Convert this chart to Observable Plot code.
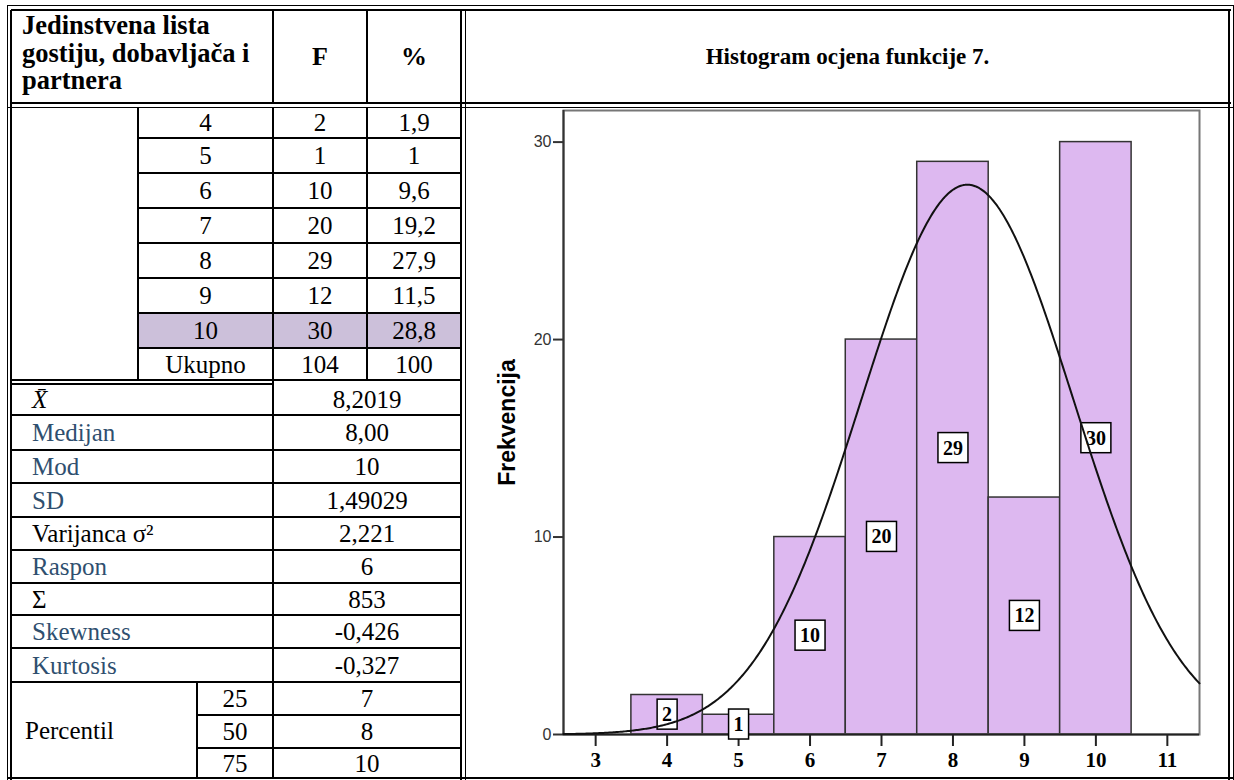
<!DOCTYPE html>
<html><head><meta charset="utf-8">
<script src="https://cdn.jsdelivr.net/npm/d3@7"></script>
<script src="https://cdn.jsdelivr.net/npm/@observablehq/plot@0.6"></script>
<style>
html,body{margin:0;padding:0;background:#fff;}
#page{position:relative;width:1234px;height:780px;overflow:hidden;font-family:"Liberation Serif","Times New Roman",serif;color:#000;}
.ln{position:absolute;background:#000;}
.cell{position:absolute;display:flex;align-items:center;justify-content:center;font-size:25px;line-height:1;white-space:nowrap;}
.cell.left{justify-content:flex-start;}
.hl{position:absolute;background:#ccc0da;}
#chart{position:absolute;left:467px;top:107px;}
</style></head><body><div id="page"></div>
<script>
// ---- data ----
const grades = [4, 5, 6, 7, 8, 9, 10];
const freq = [2, 1, 10, 20, 29, 12, 30];
const pct = ["1,9", "1", "9,6", "19,2", "27,9", "11,5", "28,8"];
const totalLabel = "Ukupno";
const totalF = "104";
const totalPct = "100";
const highlightGrade = 10;
const statLabels = ["X\u0304", "Medijan", "Mod", "SD", "Varijanca σ²", "Raspon", "Σ", "Skewness", "Kurtosis"];
const statValues = ["8,2019", "8,00", "10", "1,49029", "2,221", "6", "853", "-0,426", "-0,327"];
const statBlue = [false, true, true, true, false, true, false, true, true];
const percentileLabel = "Percentil";
const percentiles = ["25", "50", "75"];
const percentileValues = ["7", "8", "10"];
const headerLines = ["Jedinstvena lista", "gostiju, dobavljača i", "partnera"];
const colF = "F", colPct = "%";
const chartTitle = "Histogram ocjena funkcije 7.";
const yLabel = "Frekvencija";
const mean = 8.2019, sd = 1.49029, nTotal = 104, binWidth = 1;
const xTicks = [3, 4, 5, 6, 7, 8, 9, 10, 11];
const yTicks = [0, 10, 20, 30];

// ---- layout helpers ----
const page = document.getElementById("page");
function hline(x1, x2, y, w = 1.5) { const d = document.createElement("div"); d.className = "ln"; Object.assign(d.style, {left: x1 + "px", top: (y - w / 2) + "px", width: (x2 - x1) + "px", height: w + "px"}); page.appendChild(d); }
function vline(x, y1, y2, w = 1.5) { const d = document.createElement("div"); d.className = "ln"; Object.assign(d.style, {left: (x - w / 2) + "px", top: y1 + "px", width: w + "px", height: (y2 - y1) + "px"}); page.appendChild(d); }
function cell(x1, x2, y1, y2, text, opts = {}) {
  const d = document.createElement("div"); d.className = "cell" + (opts.left ? " left" : "");
  Object.assign(d.style, {left: x1 + "px", top: y1 + "px", width: (x2 - x1) + "px", height: (y2 - y1) + "px"});
  if (opts.pad) d.style.paddingLeft = opts.pad + "px", d.style.boxSizing = "border-box";
  if (opts.color) d.style.color = opts.color;
  if (opts.bold) d.style.fontWeight = "bold";
  if (opts.italic) d.style.fontStyle = "italic";
  if (opts.size) d.style.fontSize = opts.size + "px";
  d.textContent = text; page.appendChild(d); return d;
}

// column x positions
const X0 = 12, XSUB = 138, XPCT = 197, XF = 273, XP = 367, XR = 461;
// row boundaries
const bodyY = [106, 138, 173, 208, 243, 278, 313, 348, 381];
const statY = [383, 415, 450, 483, 517, 550, 583, 615, 648, 682, 715, 748, 778];

// highlight row
const hi = grades.indexOf(highlightGrade);
{ const d = document.createElement("div"); d.className = "hl"; Object.assign(d.style, {left: XSUB + "px", top: bodyY[hi] + "px", width: (XR - XSUB) + "px", height: (bodyY[hi + 1] - bodyY[hi]) + "px"}); page.appendChild(d); }

// outer double borders
hline(7, 1234, 5, 1); hline(11, 1231, 10, 2.5);
vline(7, 5, 780, 1); vline(11, 10, 780, 2.5);
vline(1233, 5, 780, 1); vline(1229, 10, 780, 2.5);
hline(11, 1231, 103, 2.5); hline(7, 1234, 107, 1);
vline(XR, 10, 780, 2.5); vline(465.5, 10, 780, 1);
hline(7, 1234, 778, 2);

// header
vline(XF, 10, 103); vline(XP, 10, 103);
{
  const d = document.createElement("div");
  Object.assign(d.style, {position: "absolute", left: "22px", top: "12px", fontSize: "26.5px", lineHeight: "27.5px", fontWeight: "bold", whiteSpace: "nowrap"});
  d.innerHTML = headerLines.join("<br>"); page.appendChild(d);
}
cell(XF, XP, 10, 103, colF, {bold: true, size: 26});
cell(XP, XR, 10, 103, colPct, {bold: true, size: 26});
cell(466, 1229, 10, 103, chartTitle, {bold: true, size: 23});

// body rows
vline(XSUB, 107, 381); vline(XF, 107, 778); vline(XP, 107, 381);
for (let i = 1; i < bodyY.length - 1; i++) hline(XSUB, XR, bodyY[i]);
hline(X0, XR, 380); hline(X0, XF, 384);
const bodyRows = grades.map((g, i) => [String(g), String(freq[i]), pct[i]]).concat([[totalLabel, totalF, totalPct]]);
bodyRows.forEach((r, i) => {
  cell(XSUB, XF, bodyY[i], bodyY[i + 1], r[0]);
  cell(XF, XP, bodyY[i], bodyY[i + 1], r[1]);
  cell(XP, XR, bodyY[i], bodyY[i + 1], r[2]);
});

// stats rows
statLabels.forEach((lab, i) => {
  if (i > 0) hline(X0, XR, statY[i]);
  cell(X0, XF, statY[i], statY[i + 1], lab, {left: true, pad: 20, color: statBlue[i] ? "#2f4f6f" : "#000", italic: i === 0});
  cell(XF, XR, statY[i], statY[i + 1], statValues[i]);
});
const pStart = statLabels.length;
hline(X0, XR, statY[pStart]);
vline(XPCT, statY[pStart], 778);
percentiles.forEach((p, j) => {
  if (j > 0) hline(XPCT, XR, statY[pStart + j]);
  cell(XPCT, XF, statY[pStart + j], statY[pStart + j + 1], p);
  cell(XF, XR, statY[pStart + j], statY[pStart + j + 1], percentileValues[j]);
});
cell(X0, XPCT, statY[pStart], 778, percentileLabel, {left: true, pad: 13});

// ---- chart ----
const bins = grades.map((g, i) => ({x: g, x1: g - binWidth / 2, x2: g + binWidth / 2, count: freq[i], label: String(freq[i])}));
const xDomain = [2.55, 11.45];
const curve = d3.range(xDomain[0], xDomain[1] + 1e-9, 0.02).map(x => ({x, y: nTotal * binWidth * Math.exp(-0.5 * ((x - mean) / sd) ** 2) / (sd * Math.sqrt(2 * Math.PI))}));

const chart = Plot.plot({
  width: 763, height: 671,
  marginLeft: 96, marginRight: 31, marginTop: 3, marginBottom: 44,
  x: {domain: xDomain},
  y: {domain: [0, 31.6]},
  style: {background: "transparent", overflow: "visible"},
  marks: [
    Plot.rectY(bins, {x1: "x1", x2: "x2", y1: 0, y2: "count", fill: "#ddb8f0", stroke: "#333", strokeWidth: 1.5}),
    Plot.frame({stroke: "#777", strokeWidth: 2}),
    Plot.ruleX([xDomain[0]], {stroke: "#333", strokeWidth: 2}),
    Plot.ruleY([0], {stroke: "#222", strokeWidth: 2}),
    Plot.axisY({ticks: yTicks, tickSize: 10, tickPadding: 2, fontSize: 16, fontFamily: "Liberation Sans, Arial, sans-serif", fill: "#333", stroke: "#333", strokeWidth: 2, label: null}),
    Plot.axisX({ticks: xTicks, tickSize: 12, tickPadding: 6, fontSize: 21, fontWeight: "bold", fontFamily: "Liberation Serif, serif", fill: "#000", stroke: "#222", strokeWidth: 2, label: null}),
    Plot.text([yLabel], {text: d => d, frameAnchor: "left", textAnchor: "middle", rotate: -90, dx: -56, fontSize: 23, fontWeight: "bold", fontFamily: "Liberation Sans, Arial, sans-serif", fill: "#000"}),
    Plot.text(bins, {x: "x", y: d => d.count / 2, text: "label", fontSize: 20, fontWeight: "bold", fontFamily: "Liberation Serif, serif", fill: "#000"}),
    Plot.line(curve, {x: "x", y: "y", stroke: "#111", strokeWidth: 2})
  ]
});
chart.id = "chart";
page.appendChild(chart);

// white boxes behind bar labels
const labelSet = new Set(bins.map(b => b.label));
const textGroups = Array.from(chart.querySelectorAll("g")).filter(gg => {
  const ts = Array.from(gg.children).filter(c => c.tagName.toLowerCase() === "text");
  return ts.length === bins.length && ts.every(t => labelSet.has(t.textContent)) && !(gg.getAttribute("aria-label") || "").includes("axis");
});
textGroups.forEach(gg => {
  Array.from(gg.children).filter(c => c.tagName.toLowerCase() === "text").forEach(t => {
    const bb = t.getBBox();
    const r = document.createElementNS("http://www.w3.org/2000/svg", "rect");
    const cy = bb.y + bb.height / 2;
    r.setAttribute("x", bb.x - 5); r.setAttribute("y", cy - 15);
    r.setAttribute("width", bb.width + 10); r.setAttribute("height", 30);
    r.setAttribute("fill", "#fff"); r.setAttribute("stroke", "#000"); r.setAttribute("stroke-width", 1.5);
    if (t.getAttribute("transform")) r.setAttribute("transform", t.getAttribute("transform"));
    gg.insertBefore(r, t);
  });
});
</script></body></html>
